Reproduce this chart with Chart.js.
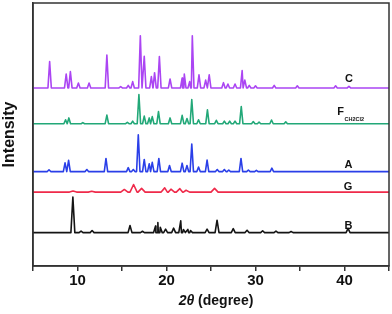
<!DOCTYPE html>
<html>
<head>
<meta charset="utf-8">
<script src="https://cdn.jsdelivr.net/npm/chart.js@4.4.1/dist/chart.umd.min.js"></script>
<style>
  html, body { margin: 0; padding: 0; background: #fff; }
  #wrap { width: 392px; height: 314px; }
</style>
</head>
<body>
<div id="wrap"><canvas id="xrd"></canvas></div>
<script>
// peak lists: [2theta, height above the trace baseline]
const seriesNames = ["C", "F", "A", "G", "B"];
const baselines = [67.7, 54.1, 35.9, 28.1, 12.7];
const xTicks = [10, 20, 30, 40];

const cPeaks = [
  [6.87, 10], [8.73, 5.3], [9.2, 6.2], [10.1, 1.9], [11.3, 1.9], [13.3, 12.5],
  [14.85, 0.5], [15.7, 1], [16.2, 2.4], [17.06, 19.8], [17.5, 12], [18.3, 4.3],
  [18.66, 5.8], [19.2, 11.9], [20.4, 3.4], [21.76, 3.8], [22.0, 5.3], [22.6, 2.4],
  [22.9, 19.8], [23.65, 5], [24.4, 3], [24.8, 5], [26.4, 2], [26.9, 1.5],
  [27.7, 1.5], [28.5, 6.6], [28.8, 3], [29.3, 1], [30.0, 0.8], [32.1, 1],
  [34.7, 0.8], [39.0, 0.8], [40.5, 0.6]
];
const fPeaks = [
  [8.66, 1.5], [9.03, 2.2], [10.6, 0.4], [13.3, 3.3], [15.6, 0.5], [16.2, 1],
  [16.9, 11.1], [17.5, 2.9], [18.06, 2.2], [18.4, 2.7], [19.1, 4.6], [20.4, 2.2],
  [21.76, 3.2], [22.3, 2], [22.84, 9.2], [23.6, 1.5], [24.6, 5.3], [25.6, 1.3],
  [26.5, 1], [27.1, 1], [27.7, 1], [28.4, 6.5], [29.75, 0.8], [30.4, 0.6],
  [31.8, 1.4], [33.4, 0.7]
];
const aPeaks = [
  [6.8, 0.7], [8.6, 3.3], [9.0, 4.3], [11.05, 0.8], [13.2, 5], [15.7, 1.5],
  [16.27, 0.8], [16.83, 14], [17.5, 4.6], [18.06, 3], [18.4, 3.5], [19.14, 5],
  [20.34, 2.3], [21.76, 3.2], [22.3, 2.3], [22.84, 10.5], [23.6, 1.7], [24.56, 4.4],
  [25.7, 0.8], [26.5, 0.8], [27.0, 0.6], [28.37, 5], [29.2, 0.6], [30.1, 0.5],
  [31.84, 1.3]
];
const gPeaks = [
  [9.5, 0.4], [11.6, 0.3], [15.26, 1], [16.3, 2.9], [17.2, 1.4], [19.8, 1.6],
  [20.5, 1.1], [21.5, 1.3], [22.2, 0.7], [25.4, 1.4]
];
const bPeaks = [
  [9.48, 13.5], [10.4, 0.6], [11.64, 0.8], [15.9, 2.7], [17.3, 0.5], [18.77, 2.5],
  [19.03, 3.8], [19.3, 2], [19.9, 1.3], [20.8, 1.7], [21.6, 4.5], [21.9, 1.2],
  [22.4, 1.2], [22.7, 0.8], [24.56, 1.3], [25.68, 4.7], [27.5, 1.5], [29.05, 0.9],
  [30.8, 0.7], [32.3, 0.6], [34.0, 0.4], [40.4, 1.6]
];

const allPeaks = [cPeaks, fPeaks, aPeaks, gPeaks, bPeaks];
const colors = ["#ab45f3", "#22a878", "#2a3fe8", "#ef2a4a", "#141414"];
const footWidth = [0.19, 0.19, 0.19, 0.4, 0.22];

// each peak becomes foot - apex - foot on top of its baseline
function buildTrace(peaks, base, w) {
  const pts = [{ x: 5, y: base }];
  peaks.forEach(([p, h]) => {
    pts.push({ x: p - w, y: base }, { x: p, y: base + h }, { x: p + w, y: base });
  });
  pts.push({ x: 45, y: base });
  return pts.sort((a, b) => a.x - b.x);
}

const datasets = seriesNames.map((name, i) => ({
  label: name,
  data: buildTrace(allPeaks[i], baselines[i], footWidth[i]),
  borderColor: colors[i],
  borderWidth: 1.6,
  borderJoinStyle: 'round',
  pointRadius: 0,
  tension: 0,
  fill: false
}));

const FONT = '"Liberation Sans", Arial, sans-serif';

// frame, trace labels and the mixed-style x title
const decorations = {
  id: 'decorations',
  afterDraw(chart) {
    const { ctx, chartArea: a, scales } = chart;
    const xs = scales.x, ys = scales.y;
    ctx.save();
    ctx.strokeStyle = '#333';
    ctx.lineWidth = 1.5;
    ctx.strokeRect(a.left, a.top, a.right - a.left, a.bottom - a.top);

    ctx.fillStyle = '#111';
    ctx.textAlign = 'center';
    ctx.textBaseline = 'middle';
    ctx.font = 'bold 11px ' + FONT;
    const spots = [[40.5, 3.4], [39.55, 4.5], [40.45, 2.6], [40.4, 1.8], [40.45, 2.6]];
    seriesNames.forEach((name, i) => {
      ctx.fillText(name, xs.getPixelForValue(spots[i][0]), ys.getPixelForValue(baselines[i] + spots[i][1]));
    });
    // subscript of F
    ctx.textAlign = 'left';
    ctx.font = 'bold 5.5px ' + FONT;
    ctx.fillText('CH2Cl2', xs.getPixelForValue(39.55) + 4, ys.getPixelForValue(baselines[1] + 4.5) + 7.5);

    // x axis title: "2θ" italic, "(degree)" upright
    const part1 = '2\u03B8', part2 = ' (degree)';
    ctx.font = 'italic bold 14px ' + FONT;
    const w1 = ctx.measureText(part1).width;
    ctx.font = 'bold 14px ' + FONT;
    const w2 = ctx.measureText(part2).width;
    const cx = (a.left + a.right) / 2 + 5;
    let x0 = cx - (w1 + w2) / 2;
    ctx.textBaseline = 'alphabetic';
    ctx.font = 'italic bold 14px ' + FONT;
    ctx.fillText(part1, x0, 305);
    ctx.font = 'bold 14px ' + FONT;
    ctx.fillText(part2, x0 + w1, 305);
    ctx.restore();
  }
};

new Chart(document.getElementById('xrd'), {
  type: 'line',
  data: { datasets },
  plugins: [decorations],
  options: {
    responsive: true,
    maintainAspectRatio: false,
    animation: false,
    devicePixelRatio: 1,
    layout: { padding: { top: 3, right: 3, left: 0, bottom: 0 } },
    plugins: { legend: { display: false }, tooltip: { enabled: false } },
    scales: {
      x: {
        type: 'linear',
        min: 5,
        max: 45,
        ticks: {
          stepSize: 5,
          autoSkip: false,
          maxRotation: 0,
          padding: 1,
          color: '#111',
          font: { family: FONT, size: 15, weight: 'bold' },
          callback: v => (xTicks.includes(v) ? String(v) : '')
        },
        grid: { drawOnChartArea: false, tickLength: 5, color: '#333', lineWidth: 1.5 },
        border: { display: true, color: '#333', width: 1.5 },
        afterFit: s => { s.height = 48; }
      },
      y: {
        min: 0,
        max: 100,
        ticks: { display: false },
        grid: { display: false },
        border: { display: true, color: '#333', width: 1.5 },
        title: {
          display: true,
          text: 'Intensity',
          color: '#111',
          font: { family: FONT, size: 16, weight: 'bold' },
          padding: { top: 0, bottom: 0 }
        },
        afterFit: s => { s.width = 33; }
      }
    }
  }
});
</script>
</body>
</html>
